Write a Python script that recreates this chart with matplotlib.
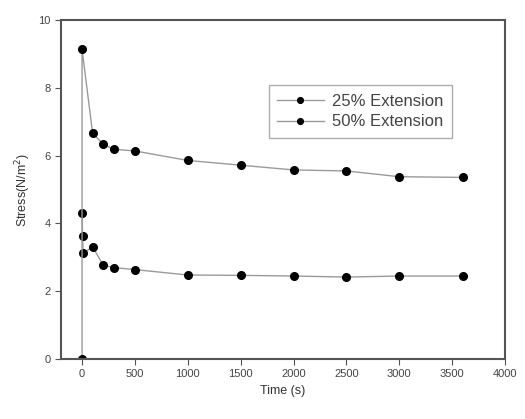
import numpy as np
import matplotlib.pyplot as plt

plt.rcParams['font.family'] = ['Liberation Sans', 'DejaVu Sans']

t_25 = [0, 5, 10, 100, 200, 300, 500, 1000, 1500, 2000, 2500, 3000, 3600]
s_25 = [4.30, 3.63, 3.12, 3.31, 2.77, 2.70, 2.64, 2.48, 2.47, 2.45, 2.42, 2.45, 2.45]

t_50 = [0, 0, 100, 200, 300, 500, 1000, 1500, 2000, 2500, 3000, 3600]
s_50 = [0.0, 9.14, 6.66, 6.34, 6.19, 6.14, 5.86, 5.72, 5.58, 5.55, 5.38, 5.36]

fig = plt.figure(figsize=(5.25, 4.19), dpi=100)
ax = fig.add_axes([0.116, 0.143, 0.846, 0.809])

ax.plot(t_25, s_25, '-o', color='#9a9a9a', lw=1, mfc='black', mec='black', ms=5.5, label='25% Extension')
ax.plot(t_50, s_50, '-o', color='#9a9a9a', lw=1, mfc='black', mec='black', ms=5.5, label='50% Extension')

ax.set_xlim(-200, 4000)
ax.set_ylim(0, 10)
ax.set_xticks(np.arange(0, 4001, 500))
ax.set_yticks(np.arange(0, 11, 2))
ax.tick_params(labelsize=8, direction='out', length=4, color='#555555', labelcolor='#444444')
for sp in ax.spines.values():
    sp.set_linewidth(1.5)
    sp.set_color('#555555')

ax.set_xlabel('Time (s)', fontsize=9, color='#333333')
ax.set_ylabel('Stress(N/m$^2$)', fontsize=9, color='#333333')

leg = ax.legend(loc='upper left', bbox_to_anchor=(0.468, 0.808), borderaxespad=0,
                fontsize=12, frameon=True, fancybox=False, edgecolor='#999999',
                handlelength=2.8, borderpad=0.5, labelspacing=0.35,
                markerscale=0.75, handletextpad=0.5)
for txt in leg.get_texts():
    txt.set_color('#444444')

fig.savefig('out.png', dpi=100)
